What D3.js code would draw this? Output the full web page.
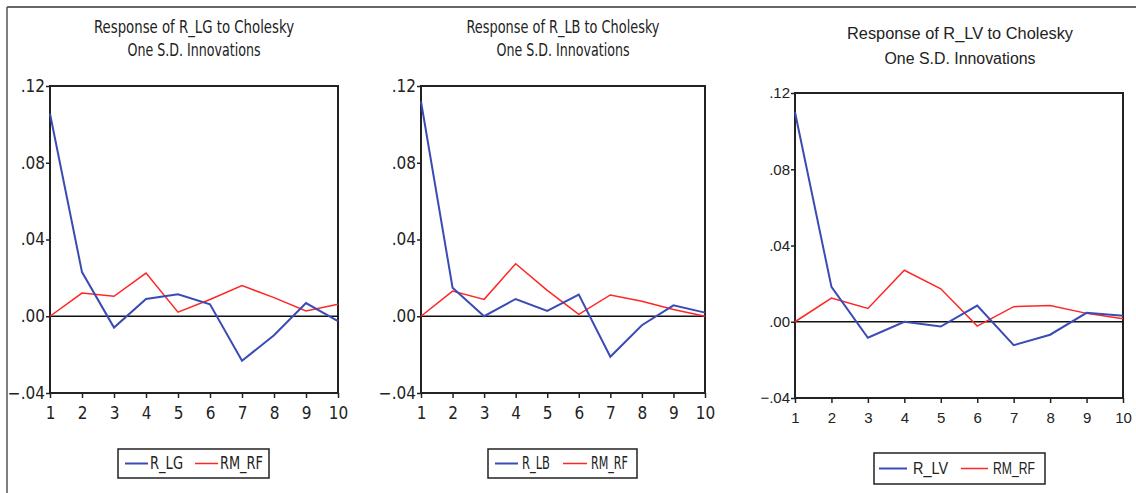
<!DOCTYPE html>
<html>
<head>
<meta charset="utf-8">
<script src="https://cdn.jsdelivr.net/npm/d3@7"></script>
<style>
  body { margin: 0; background: #fff; }
  svg { display: block; }
</style>
</head>
<body>
<div id="chart"></div>
<script>
// impulse responses, periods 1..10
var periods = [1, 2, 3, 4, 5, 6, 7, 8, 9, 10];

var r_lg     = [0.1055, 0.0230, -0.0059, 0.0090, 0.0114, 0.0062, -0.0232, -0.0099, 0.0069, -0.0026];
var rmrf_lg  = [0.0000, 0.0121, 0.0104, 0.0225, 0.0021, 0.0087, 0.0160, 0.0097, 0.0028, 0.0062];

var r_lb     = [0.1119, 0.0149, 0.0000, 0.0090, 0.0028, 0.0113, -0.0211, -0.0047, 0.0057, 0.0019];
var rmrf_lb  = [0.0000, 0.0131, 0.0088, 0.0274, 0.0135, 0.0010, 0.0111, 0.0078, 0.0035, 0.0000];

var r_lv     = [0.1099, 0.0183, -0.0084, 0.0000, -0.0025, 0.0085, -0.0123, -0.0068, 0.0047, 0.0031];
var rmrf_lv  = [0.0000, 0.0124, 0.0070, 0.0270, 0.0173, -0.0023, 0.0079, 0.0085, 0.0044, 0.0016];

var yTicks = [-0.04, 0.00, 0.04, 0.08, 0.12];
var titles1 = ["Response of R_LG to Cholesky", "Response of R_LB to Cholesky", "Response of R_LV to Cholesky"];
var titles2 = ["One S.D. Innovations", "One S.D. Innovations", "One S.D. Innovations"];
var seriesNames = [["R_LG", "RM_RF"], ["R_LB", "RM_RF"], ["R_LV", "RM_RF"]];

var BLUE = "#3b4bb4", RED = "#ff2626";

var W = 1136, H = 493;
var svg = d3.select("#chart").append("svg").attr("width", W).attr("height", H);

// outer frame (top + left only)
svg.append("line").attr("x1", 7).attr("y1", 7).attr("x2", W).attr("y2", 7)
   .attr("stroke", "#333").attr("stroke-width", 1.5);
svg.append("line").attr("x1", 7).attr("y1", 7).attr("x2", 7).attr("y2", H)
   .attr("stroke", "#555").attr("stroke-width", 1.5);

var narrow = "'Liberation Sans Narrow', 'DejaVu Sans Condensed', 'Liberation Sans', sans-serif";
var normal = "'Liberation Sans', Arial, sans-serif";

// layout for each panel
var panels = [
  {left: 50, right: 338, top: 86, bottom: 393, tcx: 194, t1y: 27, t2y: 50, t1w: 200, t2w: 133,
   font: narrow, fs: 17, tfs: 17, xpad: 9,
   leg: {x0: 118, x1: 269, y0: 449, y1: 478, b0: 125, b1: 148, bt: 150, btw: 33, r0: 195, r1: 218, rt: 220, rtw: 43},
   a: r_lg, b: rmrf_lg},
  {left: 421, right: 705, top: 86, bottom: 393, tcx: 563, t1y: 27, t2y: 50, t1w: 193, t2w: 133,
   font: narrow, fs: 17, tfs: 17, xpad: 9,
   leg: {x0: 488, x1: 637, y0: 449, y1: 478, b0: 495, b1: 518, bt: 522, btw: 28, r0: 563, r1: 587, rt: 591, rtw: 37},
   a: r_lb, b: rmrf_lb},
  {left: 795, right: 1123, top: 93, bottom: 398, tcx: 960, t1y: 33, t2y: 58, t1w: 226, t2w: 151,
   font: normal, fs: 15, tfs: 16, xpad: 9,
   leg: {x0: 874, x1: 1045, y0: 453, y1: 484, b0: 879, b1: 907, bt: 913, btw: 35, r0: 961, r1: 988, rt: 993, rtw: 42},
   a: r_lv, b: rmrf_lv}
];

function fmtY(d) {
  return d3.format(".2f")(d).replace("0.", ".");
}

panels.forEach(function(p, i) {
  var g = svg.append("g");

  var x = d3.scaleLinear().domain([1, 10]).range([p.left, p.right]);
  var y = d3.scaleLinear().domain([-0.04, 0.12]).range([p.bottom, p.top]);

  // titles
  g.append("text").attr("x", p.tcx).attr("y", p.t1y).attr("dy", "0.35em")
    .attr("text-anchor", "middle").attr("textLength", p.t1w).attr("lengthAdjust", "spacingAndGlyphs")
    .style("font-family", p.font).style("font-size", p.tfs + "px").style("fill", "#222")
    .text(titles1[i]);
  g.append("text").attr("x", p.tcx).attr("y", p.t2y).attr("dy", "0.35em")
    .attr("text-anchor", "middle").attr("textLength", p.t2w).attr("lengthAdjust", "spacingAndGlyphs")
    .style("font-family", p.font).style("font-size", p.tfs + "px").style("fill", "#222")
    .text(titles2[i]);

  // axes
  var yAxis = g.append("g").attr("transform", "translate(" + p.left + ",0)")
    .call(d3.axisLeft(y).tickValues(yTicks).tickSize(4).tickPadding(1).tickFormat(fmtY));
  var xAxis = g.append("g").attr("transform", "translate(0," + p.bottom + ")")
    .call(d3.axisBottom(x).tickValues(periods).tickSize(5).tickPadding(p.xpad).tickFormat(d3.format("d")));
  [yAxis, xAxis].forEach(function(ax) {
    ax.attr("font-size", null).attr("font-family", null);
    ax.select(".domain").remove();
    ax.selectAll(".tick line").attr("stroke", "#222").attr("stroke-width", 1.5);
    ax.selectAll(".tick text").style("font-family", p.font).style("font-size", p.fs + "px").style("fill", "#222");
  });

  // plot frame
  g.append("rect").attr("x", p.left).attr("y", p.top)
    .attr("width", p.right - p.left).attr("height", p.bottom - p.top)
    .attr("fill", "none").attr("stroke", "#222").attr("stroke-width", 2);

  // zero line
  g.append("line").attr("x1", p.left).attr("x2", p.right).attr("y1", y(0)).attr("y2", y(0))
    .attr("stroke", "#111").attr("stroke-width", 1.5);

  var line = d3.line().x(function(d, k) { return x(periods[k]); }).y(function(d) { return y(d); });

  g.append("path").datum(p.b).attr("d", line)
    .attr("fill", "none").attr("stroke", RED).attr("stroke-width", 1.5);
  g.append("path").datum(p.a).attr("d", line)
    .attr("fill", "none").attr("stroke", BLUE).attr("stroke-width", 2);

  // legend
  var L = p.leg, ly = (L.y0 + L.y1) / 2;
  g.append("rect").attr("x", L.x0).attr("y", L.y0).attr("width", L.x1 - L.x0).attr("height", L.y1 - L.y0)
    .attr("fill", "#fff").attr("stroke", "#222").attr("stroke-width", 1.5);
  g.append("line").attr("x1", L.b0).attr("x2", L.b1).attr("y1", ly).attr("y2", ly)
    .attr("stroke", BLUE).attr("stroke-width", 2);
  g.append("line").attr("x1", L.r0).attr("x2", L.r1).attr("y1", ly).attr("y2", ly)
    .attr("stroke", RED).attr("stroke-width", 1.5);
  g.append("text").attr("x", L.bt).attr("y", ly).attr("dy", "0.35em")
    .attr("textLength", L.btw).attr("lengthAdjust", "spacingAndGlyphs")
    .style("font-family", p.font).style("font-size", "17px").style("fill", "#222")
    .text(seriesNames[i][0]);
  g.append("text").attr("x", L.rt).attr("y", ly).attr("dy", "0.35em")
    .attr("textLength", L.rtw).attr("lengthAdjust", "spacingAndGlyphs")
    .style("font-family", p.font).style("font-size", "17px").style("fill", "#222")
    .text(seriesNames[i][1]);
});
</script>
</body>
</html>
